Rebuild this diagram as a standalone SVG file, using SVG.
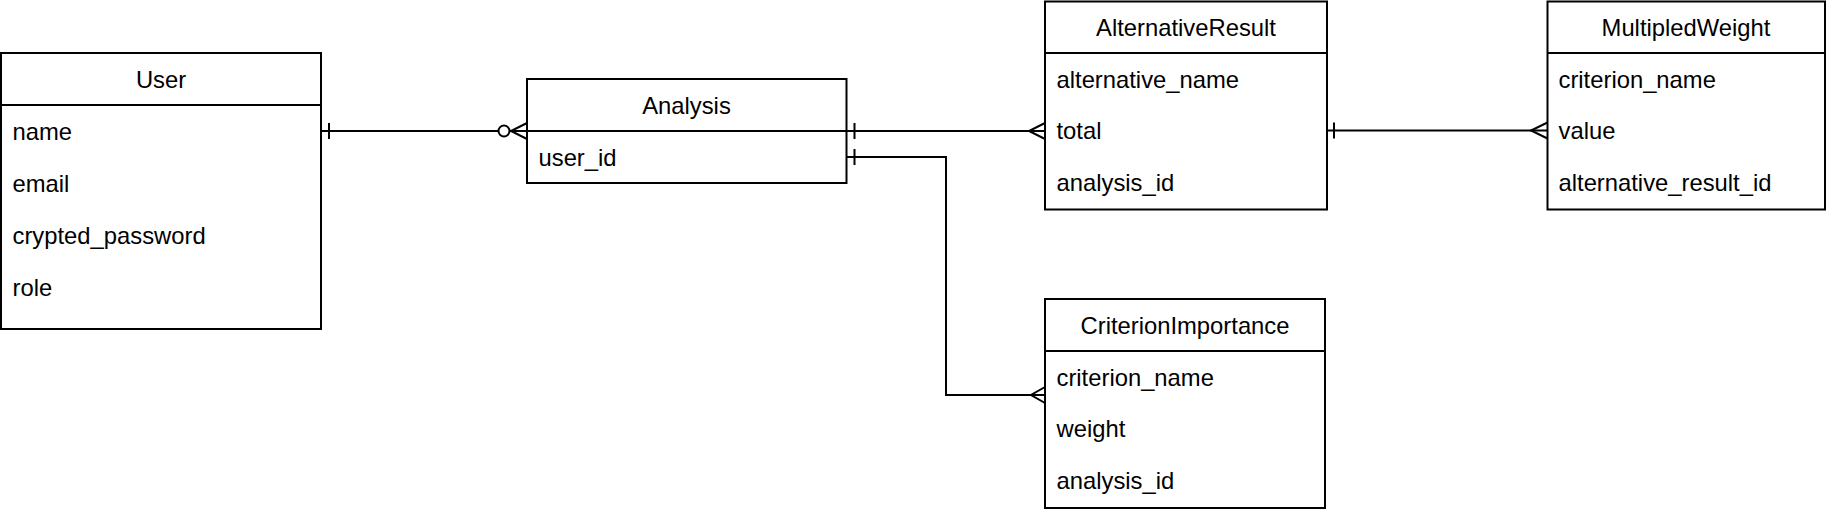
<svg xmlns="http://www.w3.org/2000/svg" width="1828" height="514" viewBox="0 0 1828 514">
<style>
.box{fill:#fff;stroke:#000;stroke-width:2}
.sep{stroke:#000;stroke-width:2}
.t{font-family:"Liberation Sans",Arial,Helvetica,sans-serif;font-size:23.8px;fill:#000}
.h{text-anchor:middle}
.c{fill:none;stroke:#000;stroke-width:2}
.o{fill:#fff;stroke:#000;stroke-width:2}
</style>
<rect width="1828" height="514" fill="#fff"/>
<g id="connectors">
  <!-- User -> Analysis -->
  <path class="c" d="M321,131 H527"/>
  <path class="c" d="M329,123 V139"/>
  <path class="c" d="M527,123 L511,131 L527,139"/>
  <circle class="o" cx="504" cy="131" r="5.5"/>
  <!-- Analysis -> AlternativeResult -->
  <path class="c" d="M846.5,131 H1045"/>
  <path class="c" d="M854.5,123 V139"/>
  <path class="c" d="M1045,123 L1029,131 L1045,139"/>
  <!-- Analysis -> CriterionImportance -->
  <path class="c" d="M846.5,157 H946 V395 H1045"/>
  <path class="c" d="M854.5,149 V165"/>
  <path class="c" d="M1045,387 L1031,395 L1045,403"/>
  <!-- AlternativeResult -> MultipledWeight -->
  <path class="c" d="M1327,130.5 H1547.5"/>
  <path class="c" d="M1334,122.5 V138.5"/>
  <path class="c" d="M1547.5,122.5 L1531,130.5 L1547.5,138.5"/>
</g>
<g id="user">
  <rect class="box" x="1" y="53" width="320" height="276"/>
  <line class="sep" x1="1" y1="105" x2="321" y2="105"/>
  <text class="t h" x="161" y="88">User</text>
  <text class="t" x="12.5" y="139.5">name</text>
  <text class="t" x="12.5" y="191.5">email</text>
  <text class="t" x="12.5" y="243.5">crypted_password</text>
  <text class="t" x="12.5" y="295.5">role</text>
</g>
<g id="analysis">
  <rect class="box" x="527" y="79" width="319.5" height="104"/>
  <line class="sep" x1="527" y1="131" x2="846.5" y2="131"/>
  <text class="t h" x="686.5" y="113.5">Analysis</text>
  <text class="t" x="538.5" y="166">user_id</text>
</g>
<g id="alternative-result">
  <rect class="box" x="1045" y="1.5" width="282" height="208"/>
  <line class="sep" x1="1045" y1="53" x2="1327" y2="53"/>
  <text class="t h" x="1186" y="35.5">AlternativeResult</text>
  <text class="t" x="1056.5" y="87.5">alternative_name</text>
  <text class="t" x="1056.5" y="139">total</text>
  <text class="t" x="1056.5" y="191">analysis_id</text>
</g>
<g id="multipled-weight">
  <rect class="box" x="1547.5" y="1.5" width="277.5" height="208"/>
  <line class="sep" x1="1547.5" y1="53" x2="1825" y2="53"/>
  <text class="t h" x="1686" y="35.5">MultipledWeight</text>
  <text class="t" x="1558.5" y="87.5">criterion_name</text>
  <text class="t" x="1558.5" y="139">value</text>
  <text class="t" x="1558.5" y="191">alternative_result_id</text>
</g>
<g id="criterion-importance">
  <rect class="box" x="1045" y="299" width="280" height="209"/>
  <line class="sep" x1="1045" y1="351" x2="1325" y2="351"/>
  <text class="t h" x="1185" y="333.5">CriterionImportance</text>
  <text class="t" x="1056.5" y="385.5">criterion_name</text>
  <text class="t" x="1056.5" y="437">weight</text>
  <text class="t" x="1056.5" y="489">analysis_id</text>
</g>
</svg>
